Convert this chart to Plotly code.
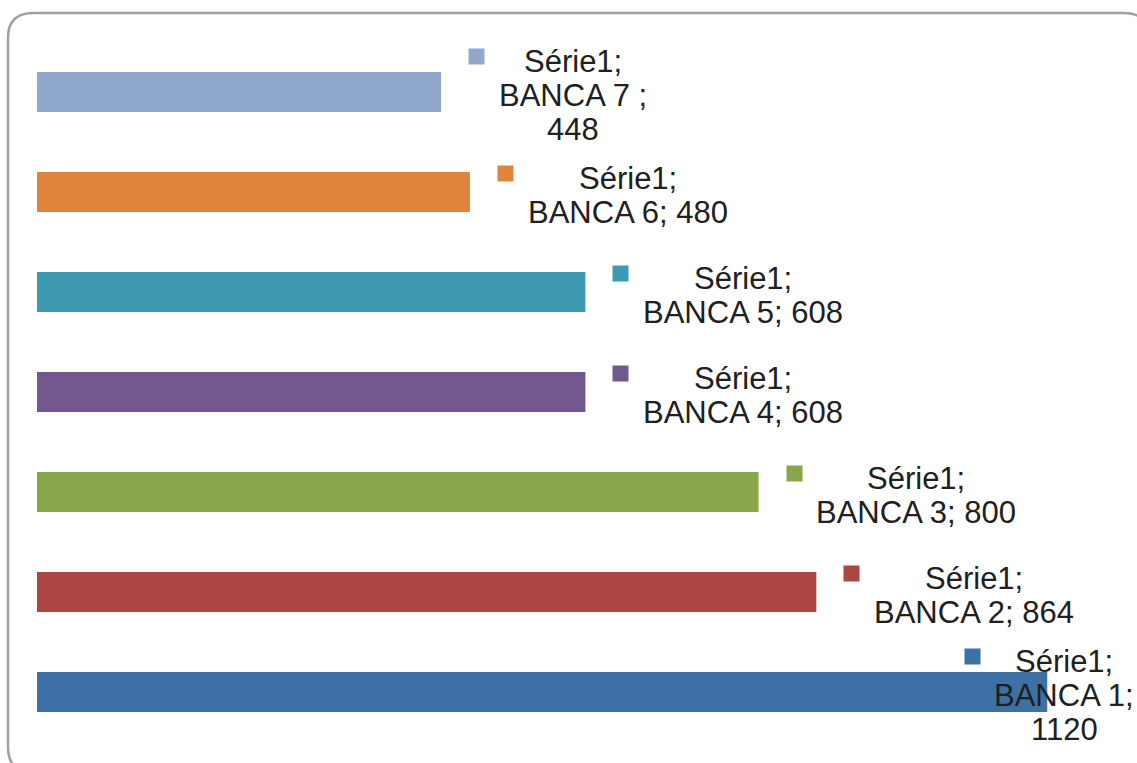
import plotly.graph_objects as go

# ---- data ----
categories = ["BANCA 1", "BANCA 2", "BANCA 3", "BANCA 4", "BANCA 5", "BANCA 6", "BANCA 7"]
values = [1120, 864, 800, 608, 608, 480, 448]
series_name = "Série1"
label_lines = [
    ["Série1;", "BANCA 1;", "1120"],
    ["Série1;", "BANCA 2; 864"],
    ["Série1;", "BANCA 3; 800"],
    ["Série1;", "BANCA 4; 608"],
    ["Série1;", "BANCA 5; 608"],
    ["Série1;", "BANCA 6; 480"],
    ["Série1;", "BANCA 7 ;", "448"],
]
colors = ["#3D70A5", "#AB4643", "#89A64B", "#71588F", "#3E9AB1", "#DF843A", "#91A8CE"]

W, H = 1137, 763
ML, MR, MT, MB = 37, 0, 42, 21
PW, PH = W - ML - MR, H - MT - MB
PX_PER_UNIT = 0.902
FONT_SIZE = 31
LINE_H = 34
FONT = "Liberation Sans, Arial, sans-serif"

# Arial / Liberation Sans advance widths (per 1000 em) for width estimation
_AW = {" ": 278, ";": 278, "S": 667, "é": 556, "r": 333, "i": 222, "e": 556,
       "B": 667, "A": 667, "N": 722, "C": 722}
def text_w(s):
    return sum(_AW.get(ch, 556) for ch in s) * FONT_SIZE / 1000.0

fig = go.Figure()
fig.add_trace(go.Bar(
    x=values, y=categories, orientation="h",
    marker=dict(color=colors, line=dict(width=0)),
    width=0.4, name=series_name, showlegend=False, hoverinfo="skip",
))

annotations = []
for cat, val, lines, col in zip(categories, values, label_lines, colors):
    n = len(lines)
    bw = max(text_w(s) for s in lines)
    bar_end_px = ML + val * PX_PER_UNIT
    shift = 0
    if bar_end_px + 57 + bw > W - 2:
        shift = (W - 2) - (bar_end_px + 57 + bw)
    # legend key square
    annotations.append(dict(
        x=val, y=cat, xref="x", yref="y", text=" ", showarrow=False,
        xanchor="left", yanchor="middle", xshift=27 + shift,
        yshift=(n - 1) * LINE_H / 2 + 2,
        width=15, height=15, bgcolor=col, borderpad=0,
        font=dict(size=2),
    ))
    for i, s in enumerate(lines):
        annotations.append(dict(
            x=val, y=cat, xref="x", yref="y", text=s, showarrow=False,
            xanchor="center", yanchor="middle",
            xshift=57 + shift + bw / 2,
            yshift=((n - 1) / 2 - i) * LINE_H - 3,
            font=dict(family=FONT, size=FONT_SIZE, color="#202020"),
        ))

def px2paper(px, py):
    return (px - ML) / PW, (H - MB - py) / PH

# rounded border frame (pixel geometry converted to paper coords)
L, T, R, B, r = 8, 13, 1149, 772, 25
pts = [
    ("M", [(L, T + r)]),
    ("Q", [(L, T), (L + r, T)]),
    ("L", [(R - r, T)]),
    ("Q", [(R, T), (R, T + r)]),
    ("L", [(R, B - r)]),
    ("Q", [(R, B), (R - r, B)]),
    ("L", [(L + r, B)]),
    ("Q", [(L, B), (L, B - r)]),
]
path = ""
for cmd, ps in pts:
    path += cmd + " " + " ".join("%.5f,%.5f" % px2paper(*p) for p in ps) + " "
path += "Z"

fig.update_layout(
    width=W, height=H,
    margin=dict(l=ML, r=MR, t=MT, b=MB),
    paper_bgcolor="white", plot_bgcolor="white",
    xaxis=dict(range=[0, PW / PX_PER_UNIT], visible=False, fixedrange=True),
    yaxis=dict(range=[-0.5, 6.5], visible=False, fixedrange=True,
               categoryorder="array", categoryarray=categories),
    annotations=annotations,
    shapes=[dict(type="path", xref="paper", yref="paper", path=path,
                 line=dict(color="#A0A0A0", width=2.5), layer="below")],
    bargap=0.6,
)

fig.write_html("out.html", config={"displayModeBar": False})
